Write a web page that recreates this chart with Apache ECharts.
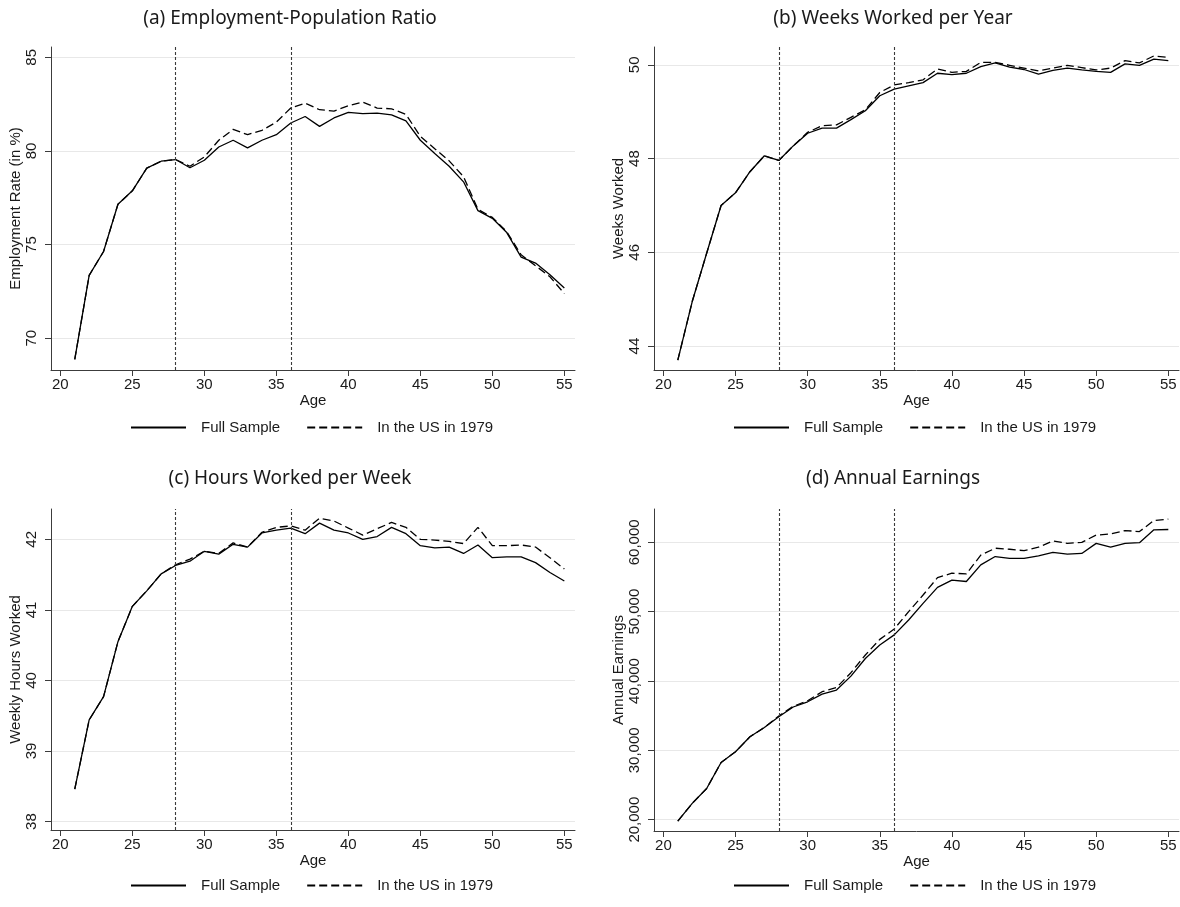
<!DOCTYPE html>
<html>
<head>
<meta charset="utf-8">
<script src="https://cdn.jsdelivr.net/npm/echarts@6/dist/echarts.min.js"></script>
<style>
  html, body { margin: 0; padding: 0; background: #ffffff; }
  #chart { width: 1180px; height: 907px; }
</style>
</head>
<body>
<div id="chart"></div>
<script>
// Age profiles, ages 21 to 55
const ages = [21, 22, 23, 24, 25, 26, 27, 28, 29, 30, 31, 32, 33, 34, 35, 36, 37, 38,
  39, 40, 41, 42, 43, 44, 45, 46, 47, 48, 49, 50, 51, 52, 53, 54, 55];

const seriesNames = ['Full Sample', 'In the US in 1979'];

// (a) Employment-population ratio, in %
const empFull = [68.87, 73.35, 74.63, 77.15, 77.87, 79.08, 79.45, 79.54, 79.10, 79.50,
  80.21, 80.57, 80.16, 80.57, 80.87, 81.49, 81.84, 81.31, 81.76, 82.06, 81.99, 82.02,
  81.93, 81.60, 80.57, 79.86, 79.18, 78.35, 76.81, 76.40, 75.64, 74.33, 74.01, 73.39, 72.68];
const empUS1979 = [68.87, 73.35, 74.63, 77.15, 77.87, 79.08, 79.45, 79.54, 79.18, 79.68,
  80.57, 81.15, 80.87, 81.10, 81.54, 82.29, 82.55, 82.20, 82.13, 82.41, 82.61, 82.29,
  82.25, 81.95, 80.78, 80.12, 79.47, 78.62, 76.88, 76.45, 75.69, 74.45, 73.87, 73.28, 72.38];

// (b) Weeks worked per year
const weeksFull = [43.70, 44.95, 45.98, 47.00, 47.27, 47.72, 48.06, 47.96, 48.27, 48.54,
  48.65, 48.65, 48.83, 49.02, 49.34, 49.48, 49.55, 49.62, 49.82, 49.79, 49.82, 49.96,
  50.04, 49.95, 49.90, 49.80, 49.88, 49.93, 49.89, 49.86, 49.84, 50.02, 49.99, 50.12, 50.09];
const weeksUS1979 = [43.70, 44.95, 45.98, 47.00, 47.27, 47.72, 48.06, 47.96, 48.27, 48.56,
  48.70, 48.72, 48.88, 49.04, 49.41, 49.57, 49.62, 49.68, 49.91, 49.84, 49.86, 50.05,
  50.05, 49.99, 49.93, 49.87, 49.93, 49.99, 49.94, 49.89, 49.93, 50.09, 50.04, 50.19, 50.16];

// (c) Hours worked per week
const hoursFull = [38.46, 39.44, 39.77, 40.55, 41.05, 41.27, 41.51, 41.63, 41.69, 41.83,
  41.79, 41.93, 41.89, 42.09, 42.13, 42.16, 42.08, 42.23, 42.13, 42.09, 42.00, 42.04,
  42.17, 42.08, 41.91, 41.88, 41.89, 41.80, 41.92, 41.74, 41.75, 41.75, 41.67, 41.53, 41.41];
const hoursUS1979 = [38.46, 39.44, 39.77, 40.55, 41.05, 41.27, 41.51, 41.64, 41.72, 41.83,
  41.80, 41.95, 41.89, 42.10, 42.17, 42.19, 42.13, 42.30, 42.26, 42.16, 42.06, 42.15,
  42.24, 42.17, 42.00, 41.99, 41.97, 41.94, 42.17, 41.91, 41.91, 41.92, 41.89, 41.74, 41.58];

// (d) Annual earnings
const earnFull = [19800, 22350, 24500, 28250, 29800, 31950, 33300, 34850, 36250, 37000,
  38100, 38700, 40700, 43250, 45200, 46650, 48800, 51200, 53500, 54550, 54350, 56750,
  57950, 57700, 57700, 58050, 58550, 58300, 58400, 59850, 59300, 59850, 59950, 61800, 61850];
const earnUS1979 = [19800, 22350, 24500, 28250, 29800, 31950, 33300, 34950, 36350, 37150,
  38450, 39050, 41200, 43750, 46000, 47500, 50000, 52400, 54900, 55550, 55450, 58150,
  59150, 59000, 58800, 59300, 60200, 59850, 60000, 61050, 61200, 61700, 61550, 63150, 63350];

// Reference ages marked with vertical lines
const cutoffAges = [28, 36];

// Tick values
const ageTicks = [20, 25, 30, 35, 40, 45, 50, 55];
const empTicks = [70, 75, 80, 85];
const weeksTicks = [44, 46, 48, 50];
const hoursTicks = [38, 39, 40, 41, 42];
const earnTicks = [20000, 30000, 40000, 50000, 60000];

const panelTitles = ['(a) Employment-Population Ratio', '(b) Weeks Worked per Year',
  '(c) Hours Worked per Week', '(d) Annual Earnings'];
const yAxisNames = ['Employment Rate (in %)', 'Weeks Worked', 'Weekly Hours Worked', 'Annual Earnings'];

const AXIS_FONT = 'Liberation Sans, Arial, sans-serif';
const TITLE_FONT = 'Noto Sans, sans-serif';
const AXIS_COLOR = '#3c3c3c';

const panels = [
  { full: empFull, us: empUS1979, ticks: empTicks, yMin: 68.3, yMax: 85.55,
    grid: { left: 51, top: 47, width: 524, height: 323 }, titleX: 290, titleTop: 9,
    legendLeft: 130, legendTop: 420 },
  { full: weeksFull, us: weeksUS1979, ticks: weeksTicks, yMin: 43.49, yMax: 50.38,
    grid: { left: 654, top: 47, width: 525, height: 323 }, titleX: 893, titleTop: 9,
    legendLeft: 733, legendTop: 420 },
  { full: hoursFull, us: hoursUS1979, ticks: hoursTicks, yMin: 37.88, yMax: 42.43,
    grid: { left: 51, top: 509, width: 524, height: 321 }, titleX: 290, titleTop: 469,
    legendLeft: 130, legendTop: 878 },
  { full: earnFull, us: earnUS1979, ticks: earnTicks, yMin: 18365, yMax: 64808,
    grid: { left: 654, top: 509, width: 525, height: 322 }, titleX: 893, titleTop: 469,
    legendLeft: 733, legendTop: 878 }
];

const fmtThousands = v => Number(v).toLocaleString('en-US');

const option = {
  backgroundColor: '#ffffff',
  animation: false,
  title: panels.map((p, i) => ({
    text: panelTitles[i],
    left: p.titleX,
    top: p.titleTop,
    textAlign: 'center',
    padding: 0,
    textStyle: { fontFamily: TITLE_FONT, fontSize: 19, fontWeight: 'normal', color: '#1a1a1a' }
  })),
  legend: panels.map(p => ({
    left: p.legendLeft,
    top: p.legendTop,
    orient: 'horizontal',
    padding: 0,
    itemWidth: 55,
    itemHeight: 14,
    itemGap: 26,
    selectedMode: false,
    data: seriesNames,
    // line-only keys: the marker dot is made invisible
    itemStyle: { color: 'rgba(0,0,0,0)', borderColor: 'rgba(0,0,0,0)', borderWidth: 0, opacity: 0 },
    textStyle: { fontFamily: AXIS_FONT, fontSize: 15, color: '#1a1a1a', padding: [0, 0, 0, 10] }
  })),
  grid: panels.map(p => Object.assign({ containLabel: false }, p.grid)),
  xAxis: panels.map((p, i) => ({
    type: 'value',
    gridIndex: i,
    min: 19.35,
    max: 55.74,
    name: 'Age',
    nameLocation: 'middle',
    nameGap: 22,
    nameTextStyle: { fontFamily: AXIS_FONT, fontSize: 15, color: '#1a1a1a' },
    axisLine: { show: true, onZero: false, lineStyle: { color: AXIS_COLOR, width: 1 } },
    axisTick: { show: true, length: 6, inside: false, customValues: ageTicks,
      lineStyle: { color: AXIS_COLOR, width: 1 } },
    axisLabel: { customValues: ageTicks, margin: 7, fontFamily: AXIS_FONT, fontSize: 15,
      color: '#1a1a1a' },
    splitLine: { show: false }
  })),
  yAxis: panels.map((p, i) => ({
    type: 'value',
    gridIndex: i,
    min: p.yMin,
    max: p.yMax,
    name: yAxisNames[i],
    nameLocation: 'middle',
    nameGap: 26,
    nameTextStyle: { fontFamily: AXIS_FONT, fontSize: 15, color: '#1a1a1a' },
    axisLine: { show: true, lineStyle: { color: AXIS_COLOR, width: 1 } },
    axisTick: { show: true, length: 6, inside: false, customValues: p.ticks,
      lineStyle: { color: AXIS_COLOR, width: 1 } },
    axisLabel: { customValues: p.ticks, rotate: 90, margin: 12, fontFamily: AXIS_FONT,
      fontSize: 15, color: '#1a1a1a',
      formatter: i === 3 ? fmtThousands : (v => String(v)) },
    splitLine: { show: true, lineStyle: { color: '#e8e8e8', width: 1.2 } }
  })),
  series: panels.flatMap((p, i) => [
    {
      name: seriesNames[0],
      type: 'line',
      xAxisIndex: i,
      yAxisIndex: i,
      data: ages.map((a, k) => [a, p.full[k]]),
      symbol: 'none',
      showSymbol: false,
      silent: true,
      lineStyle: { color: '#000000', width: 1.3, type: 'solid' },
      itemStyle: { color: '#000000' },
      z: 3,
      markLine: {
        silent: true,
        symbol: ['none', 'none'],
        label: { show: false },
        lineStyle: { color: '#3a3a3a', width: 1.1, type: [3, 2] },
        emphasis: { disabled: true },
        data: cutoffAges.map(a => ({ xAxis: a }))
      }
    },
    {
      name: seriesNames[1],
      type: 'line',
      xAxisIndex: i,
      yAxisIndex: i,
      data: ages.map((a, k) => [a, p.us[k]]),
      symbol: 'none',
      showSymbol: false,
      silent: true,
      lineStyle: { color: '#000000', width: 1.3, type: [8, 4] },
      itemStyle: { color: '#000000' },
      z: 2
    }
  ])
};

const chart = echarts.init(document.getElementById('chart'), null, { renderer: 'canvas' });
chart.setOption(option);
</script>
</body>
</html>
